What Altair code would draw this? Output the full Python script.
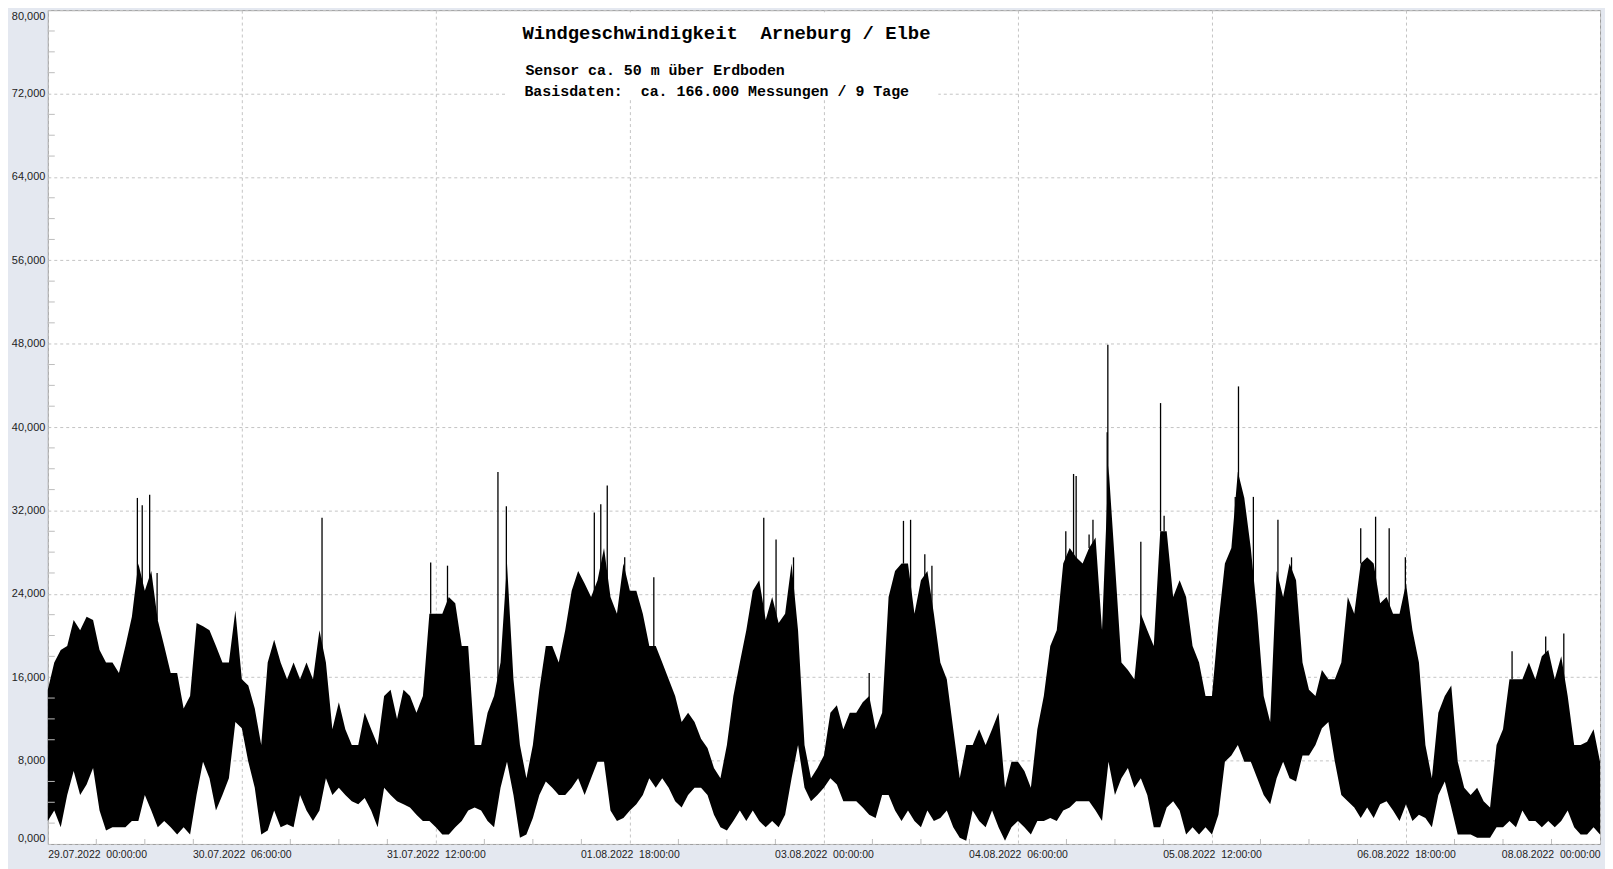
import altair as alt
import pandas as pd

NB = "\u00a0"

# Hours since 29.07.2022 00:00:00 (one reading per hour, 0..240)
hi = [
    14800, 17400, 18600, 19000, 21500, 20500, 21800, 21500, 18600, 17400,
    17400, 16400, 19000, 21800, 26900, 24300, 26200, 21500, 19000, 16400,
    16400, 13000, 14200, 21200, 20900, 20500, 19000, 17400, 17400, 22400,
    15800, 15200, 13000, 9500, 17400, 19600, 17400, 15800, 17400, 15800,
    17400, 15800, 20500, 17400, 11000, 13600, 11000, 9500, 9500, 12600,
    11000, 9500, 14200, 14800, 12000, 14800, 14200, 12600, 14200, 22100,
    22100, 22100, 23700, 23100, 19000, 19000, 9500, 9500, 12600, 14200,
    17400, 26900, 15800, 9500, 6300, 9500, 14800, 19000, 19000, 17400,
    20500, 24300, 26200, 25000, 23700, 25300, 28400, 23700, 22100, 26900,
    24300, 24300, 22100, 19000, 19000, 17400, 15800, 14200, 11700, 12600,
    11700, 10100, 9200, 7300, 6300, 9500, 14200, 17400, 20500, 24300,
    25300, 21500, 23700, 21200, 22100, 26900, 20500, 9500, 6300, 7300,
    8500, 12600, 13300, 11000, 12600, 12600, 13600, 14200, 11000, 12600,
    23700, 26200, 26900, 26900, 22100, 25300, 26200, 22100, 17400, 15800,
    11000, 6300, 9500, 9500, 11000, 9500, 11000, 12600, 5400, 7900,
    7900, 7000, 5400, 11000, 14200, 19000, 20500, 26900, 28400, 27500,
    26900, 28400, 29400, 20500, 36300, 26900, 17400, 16700, 15800, 22100,
    20500, 19000, 30000, 30000, 23700, 25300, 23700, 19000, 17400, 14200,
    14200, 21200, 26900, 28400, 35700, 33200, 28400, 22100, 14200, 11700,
    26200, 23700, 26900, 25300, 17400, 14800, 14200, 16700, 15800, 15800,
    17400, 23700, 22100, 26900, 27500, 26900, 23100, 23700, 22100, 22100,
    25000, 20500, 17400, 9500, 6300, 12600, 14200, 15200, 7900, 5400,
    4700, 5400, 4100, 3500, 9500, 11000, 15800, 15800, 15800, 17400,
    15800, 18000, 18600, 15800, 18000, 14200, 9500, 9500, 9800, 11000,
    7900,
]
lo = [
    2200, 3200, 1600, 4700, 7000, 4700, 5700, 7300, 3200, 1300,
    1600, 1600, 1600, 2200, 2200, 4700, 3200, 1600, 2200, 1600,
    900, 1600, 900, 4700, 7900, 6300, 3200, 4700, 6300, 11700,
    11100, 7900, 5400, 900, 1300, 3200, 1600, 1900, 1600, 4700,
    3200, 2200, 3200, 6300, 4700, 5400, 4700, 4100, 3800, 4400,
    3200, 1600, 5400, 4700, 4100, 3800, 3500, 2800, 2200, 2200,
    1600, 900, 900, 1600, 2200, 3200, 3500, 3200, 2200, 1600,
    5400, 7900, 4700, 600, 900, 2500, 4700, 6000, 5400, 4700,
    4700, 5400, 6300, 4700, 6300, 7900, 7900, 3200, 2200, 2500,
    3200, 3800, 4700, 6300, 5400, 6300, 5400, 4100, 3500, 4700,
    5400, 5400, 4700, 2800, 1600, 1300, 2200, 3200, 2200, 3200,
    2200, 1600, 2200, 1600, 2800, 6300, 9500, 5400, 4100, 4700,
    5400, 6300, 5700, 4100, 4100, 4100, 3500, 2800, 2500, 4700,
    4700, 3200, 2200, 3200, 2200, 1600, 3200, 2200, 2500, 3200,
    1600, 600, 300, 3200, 2200, 1600, 3200, 1600, 300, 1600,
    2200, 1600, 900, 2200, 2200, 2500, 2200, 3200, 3500, 4100,
    4100, 4100, 3200, 2200, 7900, 4700, 6300, 7300, 5400, 6300,
    4700, 1600, 1600, 3500, 4100, 3200, 900, 1600, 900, 1600,
    900, 2800, 7900, 8500, 9500, 7900, 7900, 6300, 4700, 3800,
    6300, 7900, 6300, 6000, 8500, 8500, 9500, 11100, 11700, 7900,
    4700, 4100, 3500, 2500, 3500, 2500, 3800, 4100, 3200, 2200,
    3800, 2200, 2800, 2500, 1600, 4700, 6000, 3500, 900, 900,
    900, 600, 600, 600, 1600, 1600, 2200, 1600, 3200, 2200,
    2200, 1600, 2200, 1600, 2200, 3200, 1600, 900, 900, 1600,
    900,
]
spike_hours = [13.85, 14.6, 15.75, 16.9, 42.4, 59.2, 61.8, 69.6, 70.9,
               84.5, 85.5, 86.5, 89.2, 93.7, 110.7, 112.6, 115.3, 127.0,
               132.3, 133.4, 135.6, 136.7, 157.4, 158.6, 159.0, 161.0, 161.6,
               163.8, 163.9, 169.0, 172.05, 172.6, 183.6, 184.1, 186.4, 190.2,
               192.3, 203.0, 205.3, 207.4, 209.9, 226.4, 231.6, 234.4]
spike_values = [33200, 32500, 33500, 26000, 31300, 27000, 26700, 35700, 32400,
                31800, 32600, 34400, 27500, 25600, 31300, 29200, 27500, 16400,
                31000, 31100, 27800, 26700, 30000, 35500, 35300, 29700, 31100,
                39500, 47900, 29000, 42300, 31500, 33300, 43900, 33300, 31100,
                27500, 30300, 31400, 30300, 27500, 18500, 19900, 20200]

x_tick_values = [0, 30, 60, 90, 120, 150, 180, 210, 240]
x_tick_labels = ["29.07.2022  00:00:00", "30.07.2022  06:00:00",
                 "31.07.2022  12:00:00", "01.08.2022  18:00:00",
                 "03.08.2022  00:00:00", "04.08.2022  06:00:00",
                 "05.08.2022  12:00:00", "06.08.2022  18:00:00",
                 "08.08.2022  00:00:00"]
y_tick_values = list(range(0, 80001, 8000))
y_minor = [v for v in range(0, 80001, 2000) if v % 8000 != 0]
x_minor = [7.5 * k for k in range(33) if (7.5 * k) % 30 != 0]

title_text = "Windgeschwindigkeit  Arneburg / Elbe"
sub1 = "Sensor ca. 50 m über Erdboden"
sub2 = "Basisdaten:  ca. 166.000 Messungen / 9 Tage"

W, H = 1560, 838

df = pd.DataFrame({"h": list(range(len(hi))), "hi": hi, "lo": lo})
sp = pd.DataFrame({"h": spike_hours, "v": spike_values})
sp["base"] = [min(hi[int(h)], hi[min(int(h) + 1, 240)]) for h in spike_hours]

label_expr = " : ".join(
    f"datum.value == {v} ? '{t.replace(' ', NB)}'"
    for v, t in zip(x_tick_values, x_tick_labels)
) + " : ''"

xscale = alt.Scale(domain=[0, 240], nice=False, zero=False)
yscale = alt.Scale(domain=[0, 80000], nice=False)

xaxis = alt.Axis(values=x_tick_values, labelExpr=label_expr, title=None,
                 grid=True, gridDash=[3, 3], gridColor="#c4c4c4",
                 ticks=False, domain=False, labelFlush=True,
                 labelFont="Liberation Sans", labelFontSize=10.5,
                 labelColor="#222222", labelPadding=6)
yaxis = alt.Axis(values=y_tick_values,
                 labelExpr="replace(format(datum.value/1000, '.3f'), '.', ',')",
                 title=None, grid=True, gridDash=[3, 3], gridColor="#c4c4c4",
                 ticks=False, domain=False, labelFlush=True,
                 labelFont="Liberation Sans", labelFontSize=11,
                 labelColor="#222222", labelPadding=3)

area = alt.Chart(df).mark_area(color="black", interpolate="linear").encode(
    x=alt.X("h:Q", scale=xscale, axis=xaxis),
    y=alt.Y("hi:Q", scale=yscale, axis=yaxis),
    y2="lo:Q",
)
spikes = alt.Chart(sp).mark_rule(color="black", strokeWidth=1.3).encode(
    x="h:Q", y="v:Q", y2="base:Q")

ymin_df = pd.DataFrame({"v": y_minor})
ymin = alt.Chart(ymin_df).mark_rule(color="#bcbcbc", strokeWidth=1).encode(
    y="v:Q", x=alt.value(0), x2=alt.value(7))
xmin_df = pd.DataFrame({"h": x_minor})
xmin = alt.Chart(xmin_df).mark_rule(color="#bcbcbc", strokeWidth=1).encode(
    x="h:Q", y=alt.value(H), y2=alt.value(H - 5))

box = alt.Chart(pd.DataFrame({"a": [0]})).mark_rect(color="white").encode(
    x=alt.value(462), x2=alt.value(895), y=alt.value(2), y2=alt.value(90))

def txt(s, x, y, size):
    return alt.Chart(pd.DataFrame({"t": [s.replace(" ", NB)]})).mark_text(
        align="left", baseline="middle", font="Liberation Mono",
        fontWeight="bold", fontSize=size, color="black").encode(
        text="t:N", x=alt.value(x), y=alt.value(y))

chart = alt.layer(
    box, area, spikes, ymin, xmin,
    txt(title_text, 477, 23, 19),
    txt(sub1, 480, 60, 15),
    txt(sub2, 479, 81, 15),
).properties(
    width=W, height=H,
    autosize=alt.AutoSizeParams(type="none"),
    padding={"left": 40, "top": 0, "right": 5, "bottom": 23},
    background="#e4e8f0",
).configure_view(fill="white", stroke="#9a9a9a", strokeWidth=1)

chart.save("out.html", embed_options={"renderer": "svg", "actions": False})
